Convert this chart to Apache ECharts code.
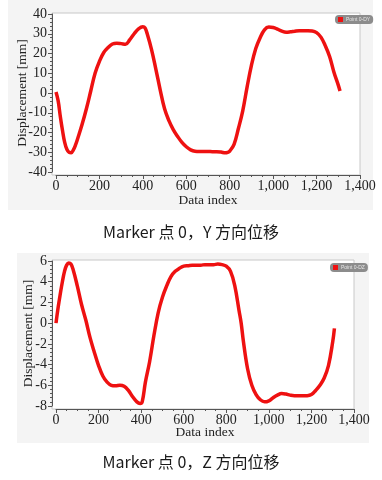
<!DOCTYPE html>
<html>
<head>
<meta charset="utf-8">
<script src="https://cdn.jsdelivr.net/npm/echarts@6/dist/echarts.min.js"></script>
<style>html,body{margin:0;padding:0;background:#fff}#c{width:382px;height:480px}</style>
</head>
<body>
<div id="c"></div>
<script>
// ---- data ----
const yIdx = [0,10,20,30,40,50,60,70,80,90,100,120,140,160,180,200,220,240,260,280,300,320,340,360,380,400,410,420,440,460,480,500,520,540,560,580,600,620,640,660,680,700,720,740,760,780,790,800,820,840,860,880,900,920,940,960,980,1000,1020,1040,1060,1080,1100,1120,1140,1160,1180,1200,1220,1240,1260,1280,1300,1308];
const yVal = [0.5,-4,-12,-19,-25,-28.5,-30,-30.2,-28.8,-26.3,-23,-16,-8,1,10,16,20.5,23,24.8,25.2,25,24.7,27,30,32.5,33.6,33,30,22,12,1.5,-8,-14,-18.5,-22,-25,-27.2,-28.8,-29.5,-29.6,-29.6,-29.6,-29.7,-29.7,-29.9,-30.3,-30.1,-29.4,-26,-18,-9,3,14,22.5,28,32,33.4,33.2,32.3,31.3,30.8,31,31.3,31.5,31.5,31.5,31.4,30.6,28.3,24,18.5,10.5,4,1];
const zIdx = [0,10,20,30,40,50,60,70,80,100,120,140,160,180,200,220,240,260,280,300,320,340,360,380,395,405,420,440,460,480,500,520,540,560,580,600,620,640,660,680,700,720,740,760,780,800,820,840,860,870,880,900,920,940,960,980,1000,1020,1040,1060,1080,1100,1120,1140,1160,1180,1200,1220,1240,1260,1280,1300,1308];
const zVal = [0,1.5,2.8,4.0,5.0,5.6,5.8,5.7,5.2,3.6,1.8,0.3,-1.4,-2.8,-4.1,-5.1,-5.7,-6.0,-6.05,-6.0,-6.1,-6.5,-7.1,-7.6,-7.75,-7.6,-5.7,-3.7,-1.2,1.0,2.5,3.6,4.5,5.0,5.3,5.5,5.55,5.6,5.6,5.6,5.65,5.65,5.65,5.7,5.65,5.5,5.0,3.6,1.2,0,-1.7,-4.4,-6.0,-6.9,-7.4,-7.6,-7.5,-7.2,-6.95,-6.8,-6.85,-6.95,-7.0,-7.0,-7.0,-7.0,-6.9,-6.5,-6.0,-5.3,-4.1,-1.8,-0.5];
const seriesNames = ['Point 0-DY', 'Point 0-DZ'];
const captions = ['Marker 点 0，Y 方向位移', 'Marker 点 0，Z 方向位移'];
const xRange = [0, 1400, 200];
const yRanges = [[-40, 40, 10], [-8, 6, 2]];

const serif = 'Liberation Serif';
const axisCol = '#555';
const txtCol = '#222';
const lineCol = '#ee1111';

function pairs(a, b) { return a.map((v, i) => [v, b[i]]); }

function xAxis(gi) {
  return {
    type: 'value', gridIndex: gi, min: xRange[0], max: xRange[1], interval: xRange[2], offset: 3,
    name: 'Data index', nameLocation: 'middle', nameGap: gi === 0 ? 18 : 16, nameMoveOverlap: false,
    nameTextStyle: { fontFamily: serif, fontSize: 13.5, color: txtCol },
    axisLine: { show: true, onZero: false, lineStyle: { color: axisCol } },
    axisTick: { show: true, inside: false, length: 4, lineStyle: { color: axisCol } },
    minorTick: { show: true, splitNumber: 4, length: 2, lineStyle: { color: axisCol } },
    splitLine: { show: false },
    axisLabel: { fontFamily: serif, fontSize: 14, color: txtCol, margin: 4,
      formatter: v => v.toLocaleString('en-US') }
  };
}
function yAxis(gi) {
  const r = yRanges[gi];
  return {
    type: 'value', gridIndex: gi, min: r[0], max: r[1], interval: r[2], offset: 4,
    name: 'Displacement [mm]', nameLocation: 'middle', nameGap: gi === 0 ? 23 : 17, nameMoveOverlap: false,
    nameTextStyle: { fontFamily: serif, fontSize: 13.5, color: txtCol },
    axisLine: { show: true, onZero: false, lineStyle: { color: axisCol } },
    axisTick: { show: true, inside: false, length: 4, lineStyle: { color: axisCol } },
    minorTick: { show: true, splitNumber: 5, length: 2, lineStyle: { color: axisCol } },
    splitLine: { show: false },
    axisLabel: { fontFamily: serif, fontSize: 14, color: txtCol, margin: 5 }
  };
}
function legend(i, left, top) {
  return {
    data: [seriesNames[i]], left: left, top: top, orient: 'horizontal',
    backgroundColor: '#8c8c8c', borderRadius: 4, padding: [2, 3, 2, 3],
    itemWidth: 5, itemHeight: 5, itemGap: 2, icon: 'rect',
    textStyle: { fontSize: 5, color: '#e6e6e6', padding: [0, 0, 0, -2] }
  };
}

const chart = echarts.init(document.getElementById('c'), null, { renderer: 'canvas' });
chart.setOption({
  backgroundColor: '#fff',
  animation: false,
  graphic: [
    { type: 'rect', z: -10, shape: { x: 8, y: 0, width: 365, height: 210 }, style: { fill: '#f4f4f4' } },
    { type: 'rect', z: -9, shape: { x: 52, y: 13, width: 308, height: 162 }, style: { fill: '#fff', stroke: '#c8c8c8', lineWidth: 1 } },
    { type: 'rect', z: -10, shape: { x: 17, y: 253, width: 352, height: 190 }, style: { fill: '#f4f4f4' } },
    { type: 'rect', z: -9, shape: { x: 52, y: 260, width: 302, height: 149 }, style: { fill: '#fff', stroke: '#c8c8c8', lineWidth: 1 } }
  ],
  title: [
    { text: captions[0], left: 'center', top: 224, padding: 0,
      textStyle: { fontFamily: 'Noto Sans CJK SC', fontSize: 16, fontWeight: 'normal', color: '#1a1a1a' } },
    { text: captions[1], left: 'center', top: 454, padding: 0,
      textStyle: { fontFamily: 'Noto Sans CJK SC', fontSize: 16, fontWeight: 'normal', color: '#1a1a1a' } }
  ],
  legend: [legend(0, 335, 15), legend(1, 330, 263)],
  grid: [
    { left: 56, right: 22, top: 14, bottom: 308, containLabel: false, outerBoundsMode: 'none' },
    { left: 56, right: 28, top: 261, bottom: 74, containLabel: false, outerBoundsMode: 'none' }
  ],
  xAxis: [xAxis(0), xAxis(1)],
  yAxis: [yAxis(0), yAxis(1)],
  series: [
    { name: seriesNames[0], type: 'line', xAxisIndex: 0, yAxisIndex: 0, data: pairs(yIdx, yVal),
      smooth: 0.4, showSymbol: false, symbol: 'none', lineStyle: { color: lineCol, width: 3.5 }, itemStyle: { color: lineCol } },
    { name: seriesNames[1], type: 'line', xAxisIndex: 1, yAxisIndex: 1, data: pairs(zIdx, zVal),
      smooth: 0.4, showSymbol: false, symbol: 'none', lineStyle: { color: lineCol, width: 3.5 }, itemStyle: { color: lineCol } }
  ]
});
</script>
</body>
</html>
